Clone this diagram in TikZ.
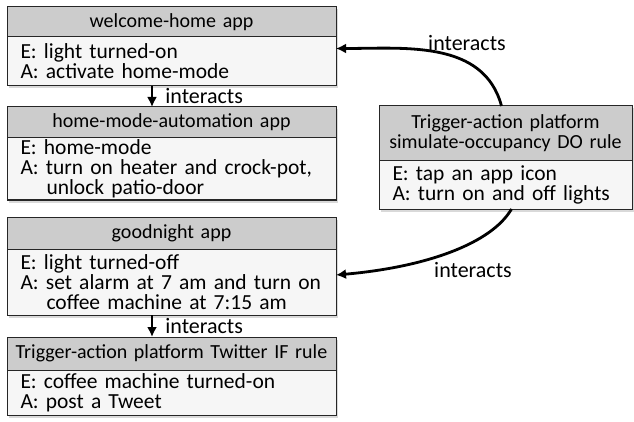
\documentclass[tikz,border=0pt]{standalone}
\usepackage{fontspec}
\setmainfont{Carlito}
\usetikzlibrary{arrows.meta,positioning,shadows}

\begin{document}
\begin{tikzpicture}[
  x=1pt, y=1pt,
  node distance=0pt,
  hdr/.style={draw=black!85, fill=gray!40, line width=1pt, outer sep=0pt,
              font=\fontsize{20}{20}\selectfont, inner xsep=4pt, inner ysep=0pt,
              text width=321pt, minimum height=31pt, align=center,
              drop shadow={shadow xshift=2pt, shadow yshift=-2.5pt, opacity=0.3}},
  bdy/.style={draw=black!85, fill=gray!7, line width=1pt, outer sep=0pt,
              font=\fontsize{21.5}{20}\selectfont, inner xsep=13.5pt, inner ysep=0pt,
              text width=302pt, minimum height=#1, align=left,
              drop shadow={shadow xshift=2pt, shadow yshift=-2.5pt, opacity=0.3}},
  lbl/.style={font=\fontsize{22}{22}\selectfont, inner sep=0pt},
  arr/.style={-{Latex[length=10pt,width=10pt]}, line width=2.8pt},
]
  \useasboundingbox (0,0) rectangle (634,-422);

  % left column of apps and rules
  \node[hdr, minimum height=30pt, anchor=north west] (wh-hdr) at (7,-7) {welcome-home app};
  \node[bdy=49pt, below=of wh-hdr] (wh-body) {E: light turned-on\\A: activate home-mode};

  \node[hdr, below=21pt of wh-body] (hm-hdr) {home-mode-automation app};
  \node[bdy=62pt, below=of hm-hdr] (hm-body) {E: home-mode\\A: turn on heater and crock-pot,\\\hspace*{26pt}unlock patio-door};

  \node[hdr, minimum height=32pt, below=17pt of hm-body] (gn-hdr) {goodnight app};
  \node[bdy=66pt, below=of gn-hdr] (gn-body) {E: light turned-off\\A: set alarm at 7 am and turn on\\\hspace*{26pt}coffee machine at 7:15 am};

  \node[hdr, minimum height=33pt, below=22pt of gn-body] (tw-hdr) {Trigger-action platform Twitter IF rule};
  \node[bdy=45pt, below=of tw-hdr] (tw-body) {E: coffee machine turned-on\\A: post a Tweet};

  % right rule
  \node[hdr, text width=245pt, minimum height=55pt, anchor=north west] (do-hdr) at (379,-106)
    {Trigger-action platform\\simulate-occupancy DO rule};
  \node[bdy=48pt, text width=226pt, below=of do-hdr] (do-body) {E: tap an app icon\\A: turn on and off lights};

  \draw[arr] ([xshift=-19.5pt]wh-body.south) -- ([xshift=-19.5pt]hm-hdr.north)
    node[lbl, midway, right=12pt] (int-a) {interacts};
  \draw[arr] ([xshift=-19.5pt]gn-body.south) -- ([xshift=-19.5pt]tw-hdr.north)
    node[lbl, midway, right=12pt] (int-b) {interacts};

  \draw[arr] ([xshift=-4pt]do-hdr.north) to[out=105, in=0] ([yshift=13pt]wh-body.east);
  \node[lbl] (int-c) at (467,-43) {interacts};
  \draw[arr] ([xshift=6pt]do-body.south) to[out=-120, in=5, out distance=40pt, in distance=90pt]
    ([yshift=7pt]gn-body.east);
  \node[lbl] (int-d) at (473,-270) {interacts};
\end{tikzpicture}
\end{document}
